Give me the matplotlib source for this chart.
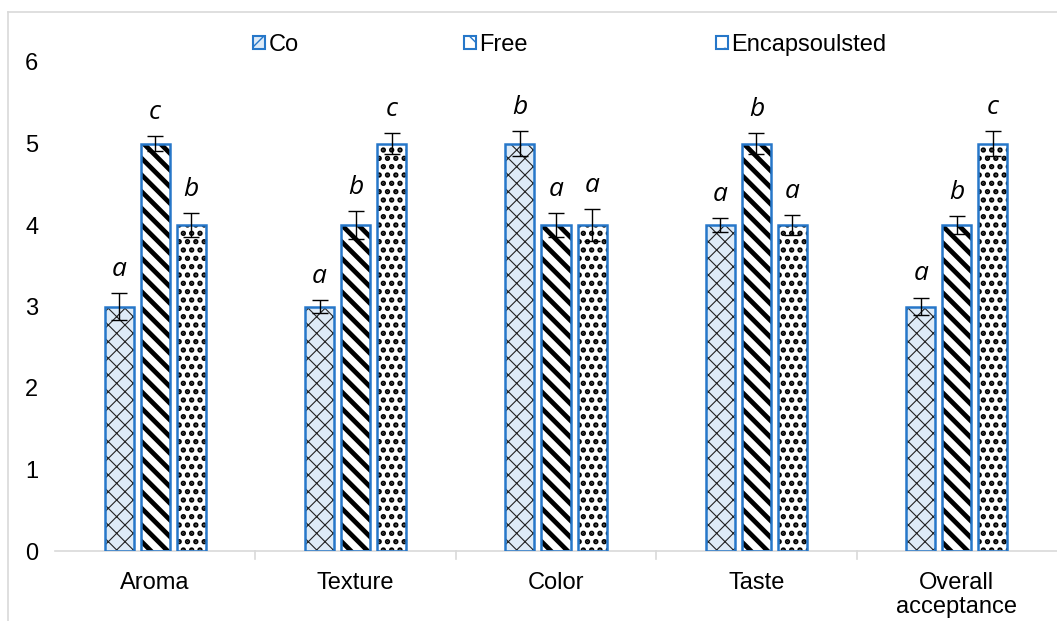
import matplotlib
matplotlib.use("Agg")
import matplotlib.pyplot as plt
import numpy as np
from matplotlib.patches import Rectangle

categories = ["Aroma", "Texture", "Color", "Taste", "Overall\nacceptance"]
series_names = ["Co", "Free", "Encapsoulsted"]
co_vals = [3, 3, 5, 4, 3]
free_vals = [5, 4, 4, 5, 4]
enc_vals = [4, 5, 4, 4, 5]
co_err = [0.17, 0.08, 0.15, 0.09, 0.11]
free_err = [0.09, 0.17, 0.15, 0.13, 0.11]
enc_err = [0.15, 0.13, 0.20, 0.12, 0.15]
co_letters = ["a", "a", "b", "a", "a"]
free_letters = ["c", "b", "a", "b", "b"]
enc_letters = ["b", "c", "a", "a", "c"]
yticks = [0, 1, 2, 3, 4, 5, 6]

plt.rcParams['font.family'] = ['Liberation Sans', 'DejaVu Sans']

fig = plt.figure(figsize=(10.57, 6.21), dpi=100)
ax = fig.add_axes([55/1057, 1 - 551/621, 1 - 55/1057, (551 - 62)/621])

edge_blue = "#2677C9"
x = np.arange(len(categories))
width = 0.145
offsets = [-0.18, 0.0, 0.18]
styles = [
    dict(face="#DEEBF7", hatch="xx", hcolor="#222222", hlw=0.8),
    dict(face="white", hatch="\\\\", hcolor="black", hlw=3.4),
    dict(face="white", hatch="..", hcolor="black", hlw=2.6),
]
vals_all = [co_vals, free_vals, enc_vals]
errs_all = [co_err, free_err, enc_err]
letters_all = [co_letters, free_letters, enc_letters]

handles = []
for i in range(3):
    xs = x + offsets[i]
    with plt.rc_context({'hatch.linewidth': styles[i]["hlw"]}):
        ax.bar(xs, vals_all[i], width, color=styles[i]["face"], hatch=styles[i]["hatch"],
               edgecolor=styles[i]["hcolor"], linewidth=0, zorder=2)
        handles.append(Rectangle((0, 0), 1, 1, facecolor=styles[i]["face"], hatch=styles[i]["hatch"][0],
                                 edgecolor=edge_blue, linewidth=1.5))
    ax.bar(xs, vals_all[i], width, fill=False, edgecolor=edge_blue, linewidth=1.8, zorder=3)
    ax.errorbar(xs, vals_all[i], yerr=errs_all[i], fmt="none", ecolor="black",
                elinewidth=1.0, capsize=6, capthick=1.0, zorder=4)
    for xi, v, e, lt in zip(xs, vals_all[i], errs_all[i], letters_all[i]):
        ax.text(xi, v + e + 0.21, lt, ha="center", va="baseline", fontsize=19,
                style="italic", family=["Open Sans", "DejaVu Sans"], zorder=5)

ax.set_xlim(-0.5, len(categories) - 0.5)
ax.set_ylim(0, 6)
ax.set_yticks(yticks)
ax.set_yticklabels([str(t) for t in yticks], fontsize=17)
ax.tick_params(axis='y', length=0, pad=12)
ax.set_xticks(x)
ax.set_xticklabels(categories, fontsize=17, linespacing=1.1)
ax.tick_params(axis='x', length=0, pad=15)
for b in np.arange(0.5, len(categories) - 0.5, 1):
    ax.plot([b, b], [0, -0.1], color="#D9D9D9", lw=1.2, clip_on=False, zorder=1)

for s in ["top", "right", "left"]:
    ax.spines[s].set_visible(False)
ax.spines["bottom"].set_color("#D9D9D9")
ax.spines["bottom"].set_linewidth(1.2)

# legend entries
leg_x = [253, 464, 716]
for i in range(3):
    fig.legend([handles[i]], [series_names[i]], loc="center left",
               bbox_to_anchor=(leg_x[i]/1057, 1 - 45/621), frameon=False,
               fontsize=17, handlelength=0.5, handleheight=0.5, handletextpad=0.15,
               borderpad=0, borderaxespad=0)

# outer chart border
fig.add_artist(plt.Line2D([8/1057, 8/1057], [0, 1 - 12/621], transform=fig.transFigure,
                          color="#D9D9D9", lw=1.2))
fig.add_artist(plt.Line2D([8/1057, 1], [1 - 12/621, 1 - 12/621], transform=fig.transFigure,
                          color="#D9D9D9", lw=1.2))

fig.savefig("out.png", dpi=100)
